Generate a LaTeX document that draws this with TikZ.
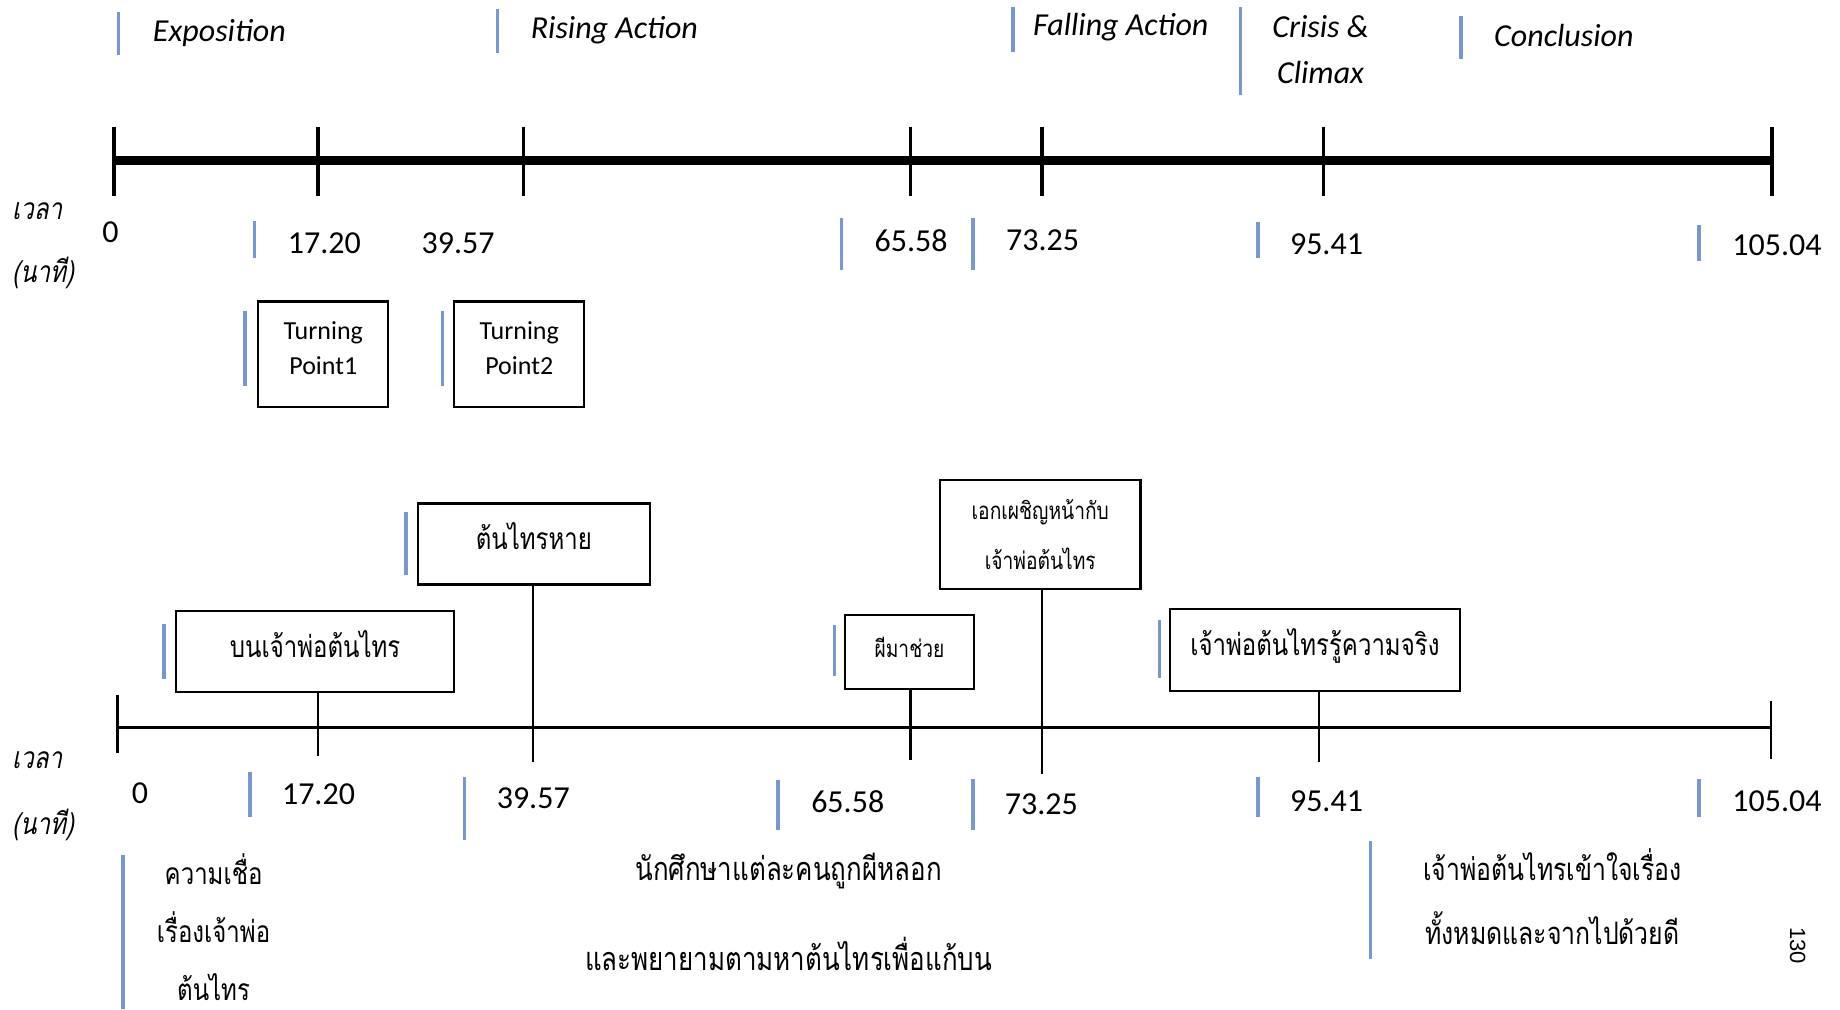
\documentclass[tikz,border=0pt]{standalone}
\usepackage{fontspec}
\setmainfont{Carlito}
\newfontfamily\thaifont[Script=Thai,FakeStretch=0.8]{Loma}
\newfontfamily\thaiit[Script=Thai,FakeStretch=0.8,FakeSlant=0.2]{Loma}
\newfontfamily\pagefont{Liberation Sans}
\definecolor{barblue}{RGB}{120,152,205}
\begin{document}
\begin{tikzpicture}[x=0.5868pt,y=-0.5868pt,
  bar/.style={draw=barblue,line width=1.8pt},
  phase/.style={anchor=west,inner sep=0pt,align=center,font=\fontsize{16}{23}\selectfont\itshape},
  num/.style={anchor=west,inner sep=0pt,font=\fontsize{16}{19}\selectfont},
  unitlbl/.style={anchor=west,inner sep=0pt,font=\thaiit\fontsize{15}{18}\selectfont},
  thickaxis/.style={line width=4.7pt},
  thinaxis/.style={line width=1.5pt},
  bigtick/.style={line width=1.8pt},
  smalltick/.style={line width=1.2pt},
  tpbox/.style={draw,line width=1.1pt,minimum width=65.1pt,minimum height=52.8pt,inner sep=0pt,align=center,text depth=6pt,font=\fontsize{13}{17.6}\selectfont},
  evbox/.style={draw,line width=1.1pt,inner sep=0pt,align=center,font=\thaifont\fontsize{15}{25}\selectfont},
  highline/.style={text height=10pt,text depth=4.2pt},
  thaitxt/.style={inner sep=0pt,align=center,font=\thaifont\fontsize{15}{29}\selectfont}
]
\useasboundingbox (0,0) rectangle (1568,860);

% ---------- phase headings ----------
\draw[bar] (101,10) -- (101,47);
\node[phase] (ph1) at (130,28) {Exposition};
\draw[bar] (424,8) -- (424,45);
\node[phase] (ph2) at (452,26) {Rising Action};
\draw[bar] (863,6) -- (863,44);
\node[phase] (ph3) at (880,23) {Falling Action};
\draw[bar] (1057,6) -- (1057,81);
\node[phase] (ph4) at (1084,42) {Crisis \&\\Climax};
\draw[bar] (1245,14) -- (1245,50);
\node[phase] (ph5) at (1273,30) {Conclusion};

% ---------- upper time axis ----------
\coordinate (ua) at (97,137);
\coordinate (ub) at (1510,137);
\draw[thickaxis] (ua) -- (ub);
\foreach \x/\n in {97/0,271/1,446/2,776/3,888/4,1128/5,1510/6}{
  \coordinate (ut\n a) at (\x,108);
  \coordinate (ut\n b) at (\x,167);
  \draw[bigtick] (ut\n a) -- (ut\n b);
}

\node[unitlbl] (uv1) at (10,180) {เวลา};
\node[unitlbl] (uv2) at (10,233) {(นาที)};

\node[num] (un0) at (87,198) {0};
\draw[bar] (217,188) -- (217,220);
\node[num] (un1) at (245,207) {17.20};
\node[num] (un2) at (359,207) {39.57};
\draw[bar] (717,186) -- (717,230);
\node[num] (un3) at (745,205) {65.58};
\draw[bar] (829,186) -- (829,230);
\node[num] (un4) at (857,205) {73.25};
\draw[bar] (1072,189) -- (1072,220);
\node[num] (un5) at (1099,208) {95.41};
\draw[bar] (1448,192) -- (1448,222);
\node[num] (un6) at (1476,209) {105.04};

% turning points
\draw[bar] (209,265) -- (209,329);
\node[tpbox] (tp1) at (275.5,302) {Turning\\Point1};
\draw[bar] (377,265) -- (377,329);
\node[tpbox] (tp2) at (442.5,302) {Turning\\Point2};

% ---------- lower time axis ----------
\coordinate (la) at (100,620);
\coordinate (lb) at (1509,620);
\draw[thinaxis] (la) -- (lb);
\coordinate (lt0a) at (100,592);
\coordinate (lt0b) at (100,642);
\draw[smalltick] (lt0a) -- (lt0b);
\coordinate (lt6a) at (1509,597);
\coordinate (lt6b) at (1509,647);
\draw[smalltick] (lt6a) -- (lt6b);

% event boxes and their stems
\draw[bar] (140,532) -- (140,579);
\node[evbox,highline,minimum width=139.1pt,minimum height=40.5pt] (e1) at (268.5,555.5) {บนเจ้าพ่อต้นไทร};
\coordinate (s1) at (271,644);
\draw[smalltick] (e1.south -| s1) -- (s1);

\draw[bar] (346,436) -- (346,490);
\node[evbox,highline,minimum width=116.2pt,minimum height=40.5pt] (e2) at (455,463.5) {ต้นไทรหาย};
\coordinate (s2) at (454,649);
\draw[smalltick] (e2.south -| s2) -- (s2);

\draw[bar] (711,533) -- (711,576);
\node[evbox,highline,minimum width=64.5pt,minimum height=37pt,font=\thaifont\fontsize{12}{20}\selectfont] (e3) at (775,555.5) {ผีมาช่วย};
\coordinate (s3) at (776,648);
\draw[smalltick] (e3.south -| s3) -- (s3);

\node[evbox,minimum width=100.3pt,minimum height=54.6pt,font=\thaifont\fontsize{12}{25}\selectfont] (e4) at (886.5,455.5) {เอกเผชิญหน้ากับ\\เจ้าพ่อต้นไทร};
\coordinate (s4) at (888,660);
\draw[smalltick] (e4.south -| s4) -- (s4);

\draw[bar] (988,528) -- (988,578);
\node[evbox,highline,minimum width=144.9pt,minimum height=41.1pt] (e5) at (1120.5,554) {เจ้าพ่อต้นไทรรู้ความจริง};
\coordinate (s5) at (1124,649);
\draw[smalltick] (e5.south -| s5) -- (s5);

\node[unitlbl] (lv1) at (10,648) {เวลา};
\node[unitlbl] (lv2) at (10,703) {(นาที)};

\node[num] (ln0) at (112,676) {0};
\draw[bar] (213,658) -- (213,696);
\node[num] (ln1) at (240,677) {17.20};
\draw[bar] (396,662) -- (396,716);
\node[num] (ln2) at (423,680) {39.57};
\draw[bar] (663,665) -- (663,707);
\node[num] (ln3) at (691,683) {65.58};
\draw[bar] (829,664) -- (829,707);
\node[num] (ln4) at (856,685) {73.25};
\draw[bar] (1072,662) -- (1072,696);
\node[num] (ln5) at (1099,683) {95.41};
\draw[bar] (1448,664) -- (1448,696);
\node[num] (ln6) at (1476,683) {105.04};

% story notes under the lower axis
\draw[bar] (105,729) -- (105,860);
\node[thaitxt,text depth=0pt] (n1) at (182,790) {ความเชื่อ\\เรื่องเจ้าพ่อ\\ต้นไทร};
\node[thaitxt,font=\thaifont\fontsize{16.2}{44.6}\selectfont] (n2) at (672,777) {นักศึกษาแต่ละคนถูกผีหลอก\\และพยายามตามหาต้นไทรเพื่อแก้บน};
\draw[bar] (1168,717) -- (1168,817);
\node[thaitxt,font=\thaifont\fontsize{15.5}{32}\selectfont] (n3) at (1323,764) {เจ้าพ่อต้นไทรเข้าใจเรื่อง\\ทั้งหมดและจากไปด้วยดี};

% page number
\node[rotate=-90,inner sep=0pt,font=\pagefont\fontsize{11}{13}\selectfont] (pg) at (1532,806) {130};
\end{tikzpicture}
\end{document}
